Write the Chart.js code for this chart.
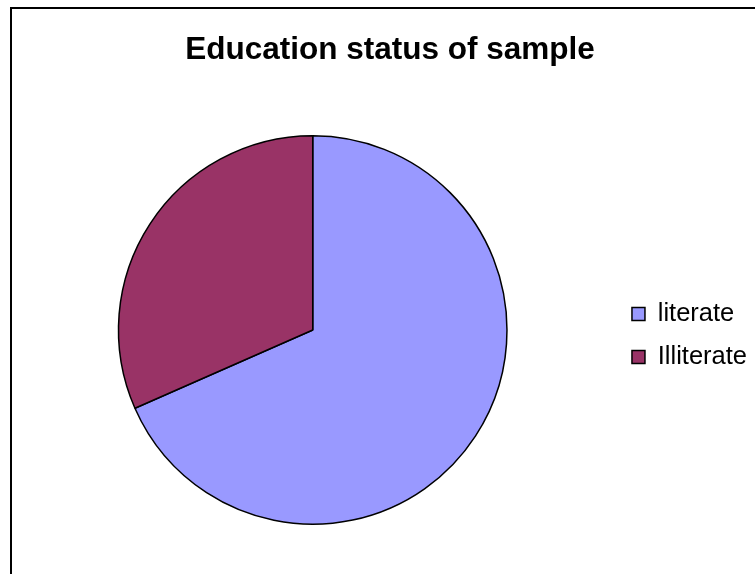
<!DOCTYPE html>
<html>
<head>
<meta charset="utf-8">
<script src="https://cdn.jsdelivr.net/npm/chart.js@4/dist/chart.umd.min.js"></script>
<style>
  html, body { margin: 0; padding: 0; background: #fff; }
  #wrap { position: relative; width: 755px; height: 574px; overflow: hidden; background: #fff; }
  #frame { position: absolute; left: 10px; top: 7px; width: 800px; height: 600px;
           border-left: 2px solid #000; border-top: 2px solid #000; box-sizing: border-box; }
  #c { position: absolute; left: 0; top: 0; }
</style>
</head>
<body>
<div id="wrap">
  <div id="frame"></div>
  <canvas id="c" width="769" height="574"></canvas>
</div>
<script>
const titleText = 'Education status of sample';
const categories = ['literate', 'Illiterate'];
const values = [68.4, 31.6];
const sliceColors = ['#9999FF', '#993366'];

const SPACER_W = 12;
const rightSpacer = {
  id: 'rightSpacer',
  start(chart) {
    const box = {
      position: 'right', weight: 2000, fullSize: false,
      options: {},
      left: 0, top: 0, right: 0, bottom: 0, width: 0, height: 0,
      isHorizontal() { return false; },
      update(maxWidth, maxHeight) { this.width = SPACER_W; this.height = maxHeight; },
      getPadding() { return {top: 0, left: 0, right: 0, bottom: 0}; },
      draw() {}
    };
    Chart.layouts.addBox(chart, box);
  }
};

new Chart(document.getElementById('c'), {
  type: 'pie',
  data: {
    labels: categories,
    datasets: [{
      data: values,
      backgroundColor: sliceColors,
      borderColor: '#000000',
      borderWidth: 1.5,
      hoverOffset: 0
    }]
  },
  options: {
    responsive: false,
    animation: false,
    layout: { padding: { left: 11, right: 0, top: 0, bottom: 49 } },
    plugins: {
      title: {
        display: true,
        text: titleText,
        color: '#000',
        font: { family: '"Liberation Sans", Arial, sans-serif', size: 31.5, weight: 'bold', lineHeight: 1.2 },
        padding: { top: 31.1, bottom: 66.1 }
      },
      legend: {
        display: true,
        position: 'right',
        align: 'center',
        fullSize: false,
        title: { display: true, text: '', padding: 0, font: { size: 11, lineHeight: 1 } },
        labels: {
          color: '#000',
          font: { family: '"Liberation Sans", Arial, sans-serif', size: 25.5 },
          boxWidth: 13,
          boxHeight: 13,
          padding: 17.5
        }
      },
      tooltip: { enabled: false }
    }
  },
  plugins: [rightSpacer]
});
</script>
</body>
</html>
